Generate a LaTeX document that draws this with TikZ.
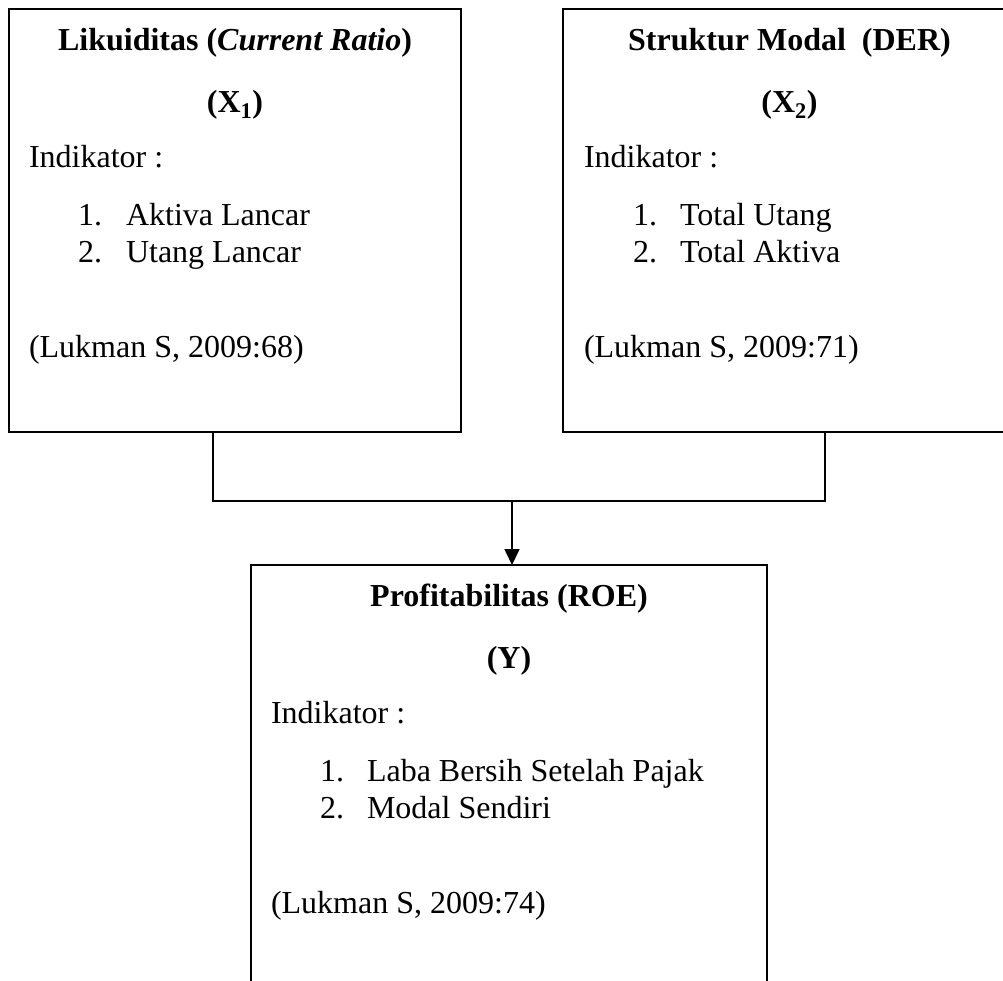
\documentclass[tikz,border=0pt]{standalone}
\usepackage{fontspec}
\setmainfont{Liberation Serif}
\usetikzlibrary{arrows.meta}
\begin{document}
\begin{tikzpicture}[x=1pt,y=-1pt,
  box/.style={draw=black,line width=1.6pt,rectangle,inner sep=0pt,outer sep=0pt},
  txt/.style={inner sep=0pt,outer sep=0pt,anchor=base west,font=\fontsize{32}{38}\selectfont},
  ttl/.style={inner sep=0pt,outer sep=0pt,anchor=base,font=\fontsize{32}{38}\selectfont\bfseries},
  conn/.style={draw=black,line width=1.6pt},
  arr/.style={conn,-{Triangle[width=15pt,length=16pt]}}]
\useasboundingbox (0,0) rectangle (1003,980);
\clip (0,0) rectangle (1003,980);
\fill[white] (0,0) rectangle (1003,980);
% boxes
\node[box,minimum width=452pt,minimum height=423pt] (L) at (235,220.5) {};
\node[box,minimum width=453pt,minimum height=423pt] (R) at (789.5,220.5) {};
\node[box,minimum width=516pt,minimum height=430pt] (B) at (509,780) {};
% left box text
\node[ttl] (Lt) at (235,50) {Likuiditas (\textit{Current Ratio})};
\node[ttl] (Lx) at (235,112) {($\mathbf{X_1}$)};
\node[txt] (Li) at (29,167) {Indikator :};
\node[txt] (Ln1) at (78,225) {1.};
\node[txt] (La1) at (126,225) {Aktiva Lancar};
\node[txt] (Ln2) at (78,262) {2.};
\node[txt] (La2) at (126,262) {Utang Lancar};
\node[txt] (Ls) at (29,357) {(Lukman S, 2009:68)};
% right box text
\node[ttl] (Rt) at (789.5,50) {Struktur Modal\ \ (DER)};
\node[ttl] (Rx) at (789.5,112) {($\mathbf{X_2}$)};
\node[txt] (Ri) at (584,167) {Indikator :};
\node[txt] (Rn1) at (633,225) {1.};
\node[txt] (Ra1) at (680,225) {Total Utang};
\node[txt] (Rn2) at (633,262) {2.};
\node[txt] (Ra2) at (680,262) {Total Aktiva};
\node[txt] (Rs) at (584,357) {(Lukman S, 2009:71)};
% bottom box text
\node[ttl] (Bt) at (509,606) {Profitabilitas (ROE)};
\node[ttl] (By) at (509,668) {(Y)};
\node[txt] (Bi) at (271,723) {Indikator :};
\node[txt] (Bn1) at (320,781) {1.};
\node[txt] (Ba1) at (367,781) {Laba Bersih Setelah Pajak};
\node[txt] (Bn2) at (320,818) {2.};
\node[txt] (Ba2) at (367,818) {Modal Sendiri};
\node[txt] (Bs) at (271,913) {(Lukman S, 2009:74)};
% connectors
\coordinate (lc) at (213,501);
\coordinate (rc) at (825,501);
\coordinate (ac) at (512,501);
\draw[conn] (L.south -| lc) -- (lc) -- (rc) -- (R.south -| rc);
\draw[arr] (ac) -- (B.north -| ac);
\end{tikzpicture}
\end{document}
